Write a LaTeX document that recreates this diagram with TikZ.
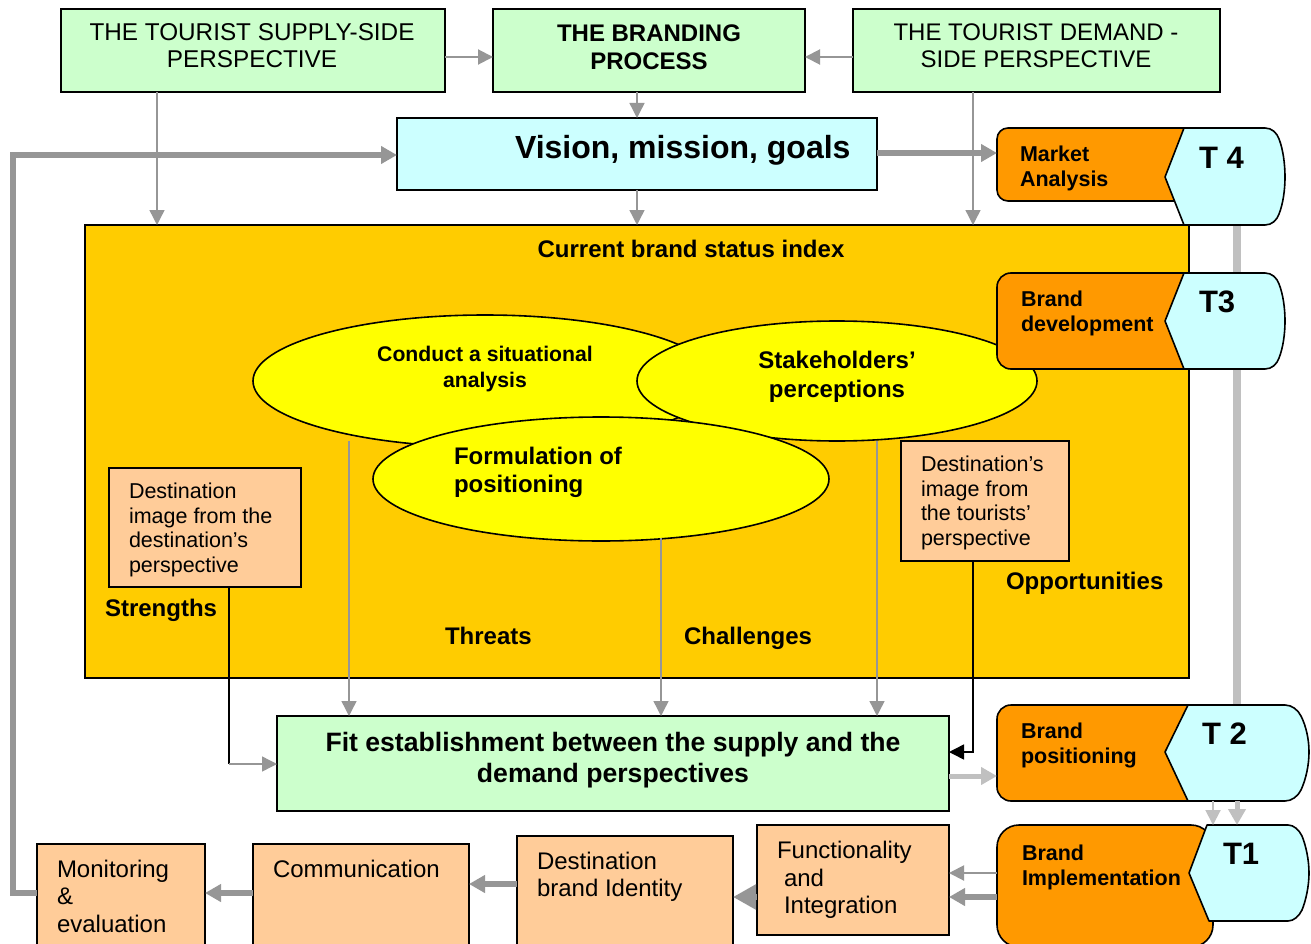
\documentclass[tikz,border=0pt]{standalone}
\usepackage{fontspec}
\setmainfont{Liberation Sans}
\usetikzlibrary{arrows.meta,calc}
\definecolor{gbox}{HTML}{CCFFCC}
\definecolor{cbox}{HTML}{CCFFFF}
\definecolor{status}{HTML}{FFCC00}
\definecolor{peach}{HTML}{FFCC99}
\definecolor{orng}{HTML}{FF9900}
\definecolor{yel}{HTML}{FFFF00}
\definecolor{gr}{HTML}{969696}
\definecolor{lgr}{HTML}{C0C0C0}
\newcommand{\fs}[2]{\fontsize{#1}{#2}\selectfont}
\newcommand{\bx}[7][gbox]{% fill, name, x1,y1,x2,y2
  \node[draw=black,line width=1.6pt,fill=#1,inner sep=0pt,outer sep=0pt,anchor=north west,
    minimum width=#5pt-#3pt,minimum height=#6pt-#4pt] (#2) at (#3,#4) {#7};}
\tikzset{
  x=1pt,y=-1pt,
  txt/.style={inner sep=0pt,outer sep=0pt,anchor=west,align=left,text=black},
  ctxt/.style={inner sep=0pt,outer sep=0pt,anchor=center,align=center,text=black},
  thin arrow/.style={draw=gr,line width=2pt,-{Triangle[length=15pt,width=15pt]}},
  hair arrow/.style={draw=gr,line width=1.4pt,-{Triangle[length=15pt,width=15pt]}},
  thick arrow/.style={draw=gr,line width=5.5pt,-{Triangle[length=16pt,width=17pt]}},
  big arrow/.style={draw=gr,line width=5.5pt,-{Triangle[length=23pt,width=24pt]}},
  pale arrow/.style={draw=lgr,line width=5pt,-{Triangle[length=16pt,width=17pt]}},
  pale thin/.style={draw=lgr,line width=2pt,-{Triangle[length=15pt,width=15pt]}},
  pale bar/.style={draw=lgr,line width=8pt},
  ell/.style={draw=black,line width=1.6pt,fill=yel},
  tagbox/.style={draw=black,line width=1.6pt,fill=orng,rounded corners=14pt},
  tagcap/.style={draw=black,line width=1.6pt,fill=cbox,line join=round},
}
\begin{document}
\begin{tikzpicture}
\useasboundingbox (0,0) rectangle (1311,944);
\clip (0,0) rectangle (1311,944);
\fill[white] (0,0) rectangle (1311,944);
% x guides
\coordinate (x157) at (157,0);
\coordinate (x637) at (637,0);
\coordinate (x973) at (973,0);
\coordinate (x349) at (349,0);
\coordinate (x661) at (661,0);
\coordinate (x877) at (877,0);
\coordinate (x229) at (229,0);
\coordinate (x1237) at (1237,0);
\coordinate (x1213) at (1213,0);
\coordinate (y57) at (0,57);
\coordinate (y153) at (0,153);
\coordinate (y155) at (0,155);
\coordinate (y752) at (0,752);
\coordinate (y764) at (0,764);
\coordinate (y776) at (0,776);
\coordinate (y873) at (0,873);
\coordinate (y897) at (0,897);
\coordinate (y884) at (0,884);
\coordinate (y893) at (0,893);

% boxes
\bx{supply}{61}{9}{445}{92}{}
\bx{branding}{493}{9}{805}{92}{}
\bx{demand}{853}{9}{1220}{92}{}
\bx[cbox]{vision}{397}{118}{877}{190}{}
\bx[status]{index}{85}{225}{1189}{678}{}
\bx{fit}{277}{716}{949}{811}{}
\bx[peach]{monitor}{37}{844}{205}{960}{}
\bx[peach]{comm}{253}{844}{469}{960}{}
\bx[peach]{ident}{517}{836}{733}{960}{}
\bx[peach]{func}{757}{825}{949}{935}{}

% connectors behind the ellipses
\draw[hair arrow] (supply.south -| x157) -- (index.north -| x157);
\draw[hair arrow] (demand.south -| x973) -- (index.north -| x973);
\draw[hair arrow] (vision.south -| x637) -- (index.north -| x637);
\draw[hair arrow] (branding.south -| x637) -- (vision.north -| x637);
\draw[thin arrow] (supply.east |- y57) -- (branding.west |- y57);
\draw[thin arrow] (demand.west |- y57) -- (branding.east |- y57);

% ellipses
\path[ell] (485,381) ellipse [x radius=232,y radius=66];
\coordinate (conduct) at (349,441);
\path[ell] (837,381) ellipse [x radius=200,y radius=60];
\coordinate (stake) at (877,441);
\path[ell] (601,479) ellipse [x radius=228,y radius=62];
\coordinate (formul) at (661,538);

% peach boxes in the index
\bx[peach]{destL}{109}{468}{301}{587}{}
\bx[peach]{destR}{901}{441}{1069}{561}{}

% lines to the fit box
\draw[hair arrow] (conduct) -- (fit.north -| x349);
\draw[hair arrow] (formul) -- (fit.north -| x661);
\draw[hair arrow] (stake) -- (fit.north -| x877);
\draw[black,line width=1.6pt] (destL.south -| x229) -- (x229 |- y764);
\draw[hair arrow] (x229 |- y764) -- (fit.west |- y764);
\draw[black,line width=1.6pt,-{Triangle[length=15pt,width=15pt]}] (destR.south -| x973) -- (x973 |- y752) -- (fit.east |- y752);

% right-hand tags: connectors first
\coordinate (t4b) at (1237,225);
\coordinate (t3t) at (1237,273);
\coordinate (t3b) at (1237,369);
\coordinate (t2t) at (1237,705);
\draw[pale bar] (t4b) -- (t3t);
\draw[pale bar] (t3b) -- (t2t);

\path[tagbox,rounded corners=11pt] (997,128) rectangle (1200,201);
\path[tagcap] (1165,177) -- (1184,128) -- (1265,128) .. controls (1272,128) and (1277,133) .. (1279,139) .. controls (1283,149) and (1285,164) .. (1285,177) .. controls (1285,190) and (1283,204) .. (1279,214) .. controls (1277,220) and (1272,225) .. (1265,225) -- (1184,225) -- cycle;
\path[tagbox] (997,273) rectangle (1200,369);
\path[tagcap] (1165,321) -- (1184,273) -- (1265,273) .. controls (1272,273) and (1277,278) .. (1279,284) .. controls (1283,294) and (1285,308) .. (1285,321) .. controls (1285,334) and (1283,348) .. (1279,358) .. controls (1277,364) and (1272,369) .. (1265,369) -- (1184,369) -- cycle;
\path[tagbox] (997,705) rectangle (1205,801);
\path[tagcap] (1165,752) -- (1188,705) -- (1285,705) .. controls (1292,705) and (1298,710) .. (1301,716) .. controls (1306,726) and (1309,739) .. (1309,752) .. controls (1309,765) and (1306,779) .. (1301,790) .. controls (1298,796) and (1292,801) .. (1285,801) -- (1188,801) -- cycle;
\path[tagbox,rounded corners=22pt] (997,825) rectangle (1213,947);
\path[tagcap] (1189,873) -- (1207,825) -- (1288,825) .. controls (1294,825) and (1299,830) .. (1302,836) .. controls (1306,846) and (1309,860) .. (1309,873) .. controls (1309,886) and (1306,900) .. (1302,910) .. controls (1299,916) and (1294,921) .. (1288,921) -- (1209,921) -- cycle;
\coordinate (t2bA) at (1213,801);
\coordinate (t1tA) at (1213,825);
\coordinate (t2bB) at (1237,801);
\coordinate (t1tB) at (1237,825);
\coordinate (t4l) at (997,153);
\coordinate (t2l) at (997,776);
\coordinate (t1l) at (997,873);
\coordinate (t1m) at (997,897);

\draw[pale thin] (t2bA) -- (t1tA);
\draw[pale arrow] (t2bB) -- (t1tB);
\draw[thick arrow] (vision.east |- y153) -- (t4l);
\draw[pale arrow] (fit.east |- y776) -- (t2l);
\draw[thin arrow] (t1l) -- (func.east |- y873);
\draw[thick arrow] (t1m) -- (func.east |- y897);
\draw[big arrow] (func.west |- y897) -- (ident.east |- y897);
\draw[thick arrow] (ident.west |- y884) -- (comm.east |- y884);
\draw[thick arrow] (comm.west |- y893) -- (monitor.east |- y893);
\coordinate (xL) at (13,0);
\draw[thick arrow] (monitor.west |- y893) -- (xL |- y893) -- (xL |- y155) -- (vision.west |- y155);

% texts
\node[ctxt,font=\fs{24.3}{27}] (tSupply) at (252,46) {THE TOURIST SUPPLY-SIDE\\PERSPECTIVE};
\node[ctxt,font=\fs{24}{28}\bfseries] (tBrand) at (649,47) {THE BRANDING\\PROCESS};
\node[ctxt,font=\fs{24}{27}] (tDemand) at (1036,46) {THE TOURIST DEMAND -\\SIDE PERSPECTIVE};
\node[txt,font=\fs{32}{38}\bfseries] (tVision) at (515,150) {Vision, mission, goals};
\node[ctxt,font=\fs{24}{28}\bfseries] (tIndex) at (691,249) {Current brand status index};
\node[ctxt,font=\fs{21.2}{26}\bfseries] (tConduct) at (485,369) {Conduct a situational\\analysis};
\node[ctxt,font=\fs{24}{29}\bfseries] (tStake) at (837,377) {Stakeholders’\\perceptions};
\node[txt,font=\fs{24}{28}\bfseries] (tForm) at (454,472) {Formulation of\\positioning};
\node[txt,font=\fs{21.5}{24.4}] (tDL) at (129,530) {Destination\\image from the\\destination’s\\perspective};
\node[txt,font=\fs{21.5}{24.5}] (tDR) at (921,503) {Destination’s\\image from\\the tourists’\\perspective};
\node[txt,font=\fs{24}{28}\bfseries] (tStr) at (105,610) {Strengths};
\node[txt,font=\fs{24}{28}\bfseries] (tThr) at (445,636) {Threats};
\node[txt,font=\fs{24}{28}\bfseries] (tCha) at (684,638) {Challenges};
\node[txt,font=\fs{24}{28}\bfseries] (tOpp) at (1006,583) {Opportunities};
\node[ctxt,font=\fs{26.6}{31}\bfseries] (tFit) at (613,760) {Fit establishment between the supply and the\\demand perspectives};
\node[txt,font=\fs{21.5}{25}\bfseries] (tMkt) at (1020,168) {Market\\Analysis};
\node[txt,font=\fs{21.5}{25}\bfseries] (tDev) at (1021,313.5) {Brand\\development};
\node[txt,font=\fs{21.5}{25}\bfseries] (tPos) at (1021,745) {Brand\\positioning};
\node[txt,font=\fs{21.5}{25}\bfseries] (tImp) at (1022,867) {Brand\\Implementation};
\node[txt,font=\fs{31}{36}\bfseries] (tT4) at (1199,158) {T 4};
\node[txt,font=\fs{31}{36}\bfseries] (tT3) at (1199,302) {T3};
\node[txt,font=\fs{31}{36}\bfseries] (tT2) at (1202,734) {T 2};
\node[txt,font=\fs{31}{36}\bfseries] (tT1) at (1223,854) {T1};
\node[txt,font=\fs{24}{27.5}] (tMon) at (57,896) {Monitoring\\\&\\evaluation};
\node[txt,font=\fs{24}{27.5}] (tCom) at (273,869) {Communication};
\node[txt,font=\fs{24}{27}] (tId) at (537,877) {Destination\\brand Identity};
\node[txt,font=\fs{24}{27.5}] (tFun) at (777,880) {Functionality\\\hspace*{7pt}and\\\hspace*{7pt}Integration};
\end{tikzpicture}
\end{document}
